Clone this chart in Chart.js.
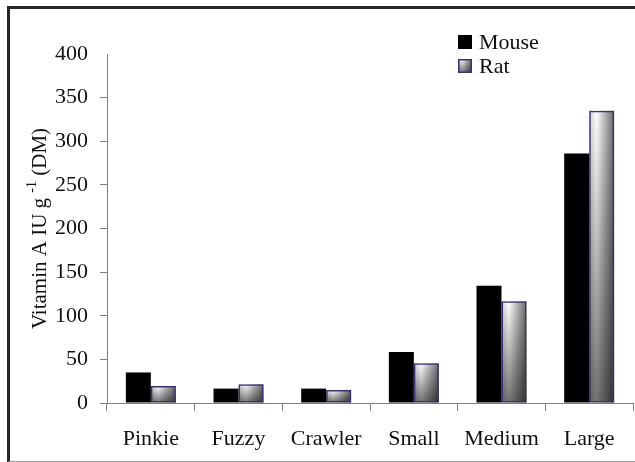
<!DOCTYPE html>
<html><head><meta charset="utf-8">
<script src="https://cdn.jsdelivr.net/npm/chart.js@4/dist/chart.umd.min.js"></script>
<style>
html,body{margin:0;padding:0;background:#fff;overflow:hidden;}
#wrap{position:relative;width:635px;height:462px;overflow:hidden;}
#frame{position:absolute;left:7px;top:6px;width:700px;height:452px;border-left:3px solid #262626;border-top:3px solid #262626;border-bottom:1px solid #a0a0a0;pointer-events:none;}
canvas{position:absolute;left:0;top:0;}
</style></head><body>
<div id="wrap"><canvas id="c" width="635" height="462"></canvas><div id="frame"></div></div>
<script>
const categories = ['Pinkie', 'Fuzzy', 'Crawler', 'Small', 'Medium', 'Large'];
const seriesLabels = ['Mouse', 'Rat'];
const mouseValues = [35, 16.5, 16.5, 58.5, 134.5, 286];
const ratValues = [19.5, 21.5, 15, 45.5, 116.5, 335];
const yTickValues = [0, 50, 100, 150, 200, 250, 300, 350, 400];
const axisTitleParts = ['Vitamin A IU g ', '-1', ' (DM)'];

const FONT = "'Liberation Serif', 'Times New Roman', serif";

function ratFill(ctx, l, top, w, h) {
  const g = ctx.createLinearGradient(l, 0, l + w, 0);
  g.addColorStop(0, '#cfcfcf');
  g.addColorStop(0.3, '#ffffff');
  g.addColorStop(1, '#6a6a6a');
  ctx.fillStyle = g;
  ctx.fillRect(l, top, w, h);
  const v = ctx.createLinearGradient(0, top, 0, top + h);
  v.addColorStop(0, 'rgba(0,0,0,0)');
  v.addColorStop(1, 'rgba(0,0,0,0.55)');
  ctx.fillStyle = v;
  ctx.fillRect(l, top, w, h);
}

const gradientPlugin = {
  id: 'ratGradient',
  beforeDatasetDraw(chart, args) {
    if (args.index !== 1) return;
    const ctx = chart.ctx;
    ctx.save();
    args.meta.data.forEach(el => {
      const l = el.x - el.width / 2;
      const top = Math.min(el.y, el.base);
      const h = Math.abs(el.base - el.y);
      ratFill(ctx, l, top, el.width, h);
    });
    ctx.restore();
  }
};

const extrasPlugin = {
  id: 'extras',
  afterDraw(chart) {
    const ctx = chart.ctx;
    const area = chart.chartArea;
    // axis title with superscript
    ctx.save();
    ctx.fillStyle = '#111';
    ctx.textBaseline = 'alphabetic';
    ctx.textAlign = 'left';
    const mainFont = '21px ' + FONT;
    const supFont = '14px ' + FONT;
    ctx.font = mainFont; const w1 = ctx.measureText(axisTitleParts[0]).width;
    const w3 = ctx.measureText(axisTitleParts[2]).width;
    ctx.font = supFont; const w2 = ctx.measureText(axisTitleParts[1]).width;
    const total = w1 + w2 + w3;
    ctx.translate(46, (area.top + area.bottom) / 2);
    ctx.rotate(-Math.PI / 2);
    let x = -total / 2;
    ctx.font = mainFont; ctx.fillText(axisTitleParts[0], x, 0); x += w1;
    ctx.font = supFont; ctx.fillText(axisTitleParts[1], x, -10); x += w2;
    ctx.font = mainFont; ctx.fillText(axisTitleParts[2], x, 0);
    ctx.restore();

    // legend
    ctx.save();
    const lx = 458, ys = [35, 59], box = 14;
    ctx.font = '22px ' + FONT;
    ctx.textBaseline = 'middle';
    ctx.fillStyle = '#111';
    chart.data.datasets.forEach((ds, i) => {
      const y = ys[i];
      if (i === 0) {
        ctx.fillStyle = '#000';
        ctx.fillRect(lx, y, box, box);
      } else {
        ratFill(ctx, lx, y, box, box);
        ctx.strokeStyle = ds.borderColor;
        ctx.lineWidth = 1.5;
        ctx.strokeRect(lx + 0.75, y + 0.75, box - 1.5, box - 1.5);
      }
      ctx.fillStyle = '#111';
      ctx.fillText(ds.label, lx + 21, y + box / 2 + 1);
    });
    ctx.restore();
  }
};

new Chart(document.getElementById('c'), {
  type: 'bar',
  data: {
    labels: categories,
    datasets: [
      { label: seriesLabels[0], data: mouseValues, backgroundColor: '#000', borderWidth: 0 },
      { label: seriesLabels[1], data: ratValues, backgroundColor: 'rgba(0,0,0,0)', borderColor: '#3a3272', borderWidth: 1.5, borderSkipped: false }
    ]
  },
  options: {
    responsive: false,
    animation: false,
    devicePixelRatio: 1,
    events: [],
    layout: { padding: { left: 0, top: 54, right: 2, bottom: 9 } },
    datasets: { bar: { categoryPercentage: 0.57, barPercentage: 1 } },
    plugins: { legend: { display: false }, tooltip: { enabled: false } },
    scales: {
      x: {
        offset: true,
        grid: { display: true, offset: true, drawOnChartArea: false, drawTicks: true, tickLength: 8, color: '#808080' },
        border: { color: '#808080', width: 1 },
        ticks: { color: '#111', font: { family: FONT, size: 22 }, padding: 15, maxRotation: 0 },
        afterFit(scale) { scale.height = 50; }
      },
      y: {
        min: 0, max: 400,
        afterBuildTicks(scale) { scale.ticks = yTickValues.map(v => ({ value: v })); },
        grid: {
          display: true, drawOnChartArea: false, drawTicks: true, tickLength: 7,
          color: c => (c.tick && c.tick.value === 400) ? 'rgba(0,0,0,0)' : '#808080'
        },
        border: { color: '#808080', width: 1 },
        ticks: { color: '#111', font: { family: FONT, size: 22 }, padding: 12 },
        afterFit(scale) { scale.width = 107; }
      }
    }
  },
  plugins: [gradientPlugin, extrasPlugin]
});
</script>
</body></html>
